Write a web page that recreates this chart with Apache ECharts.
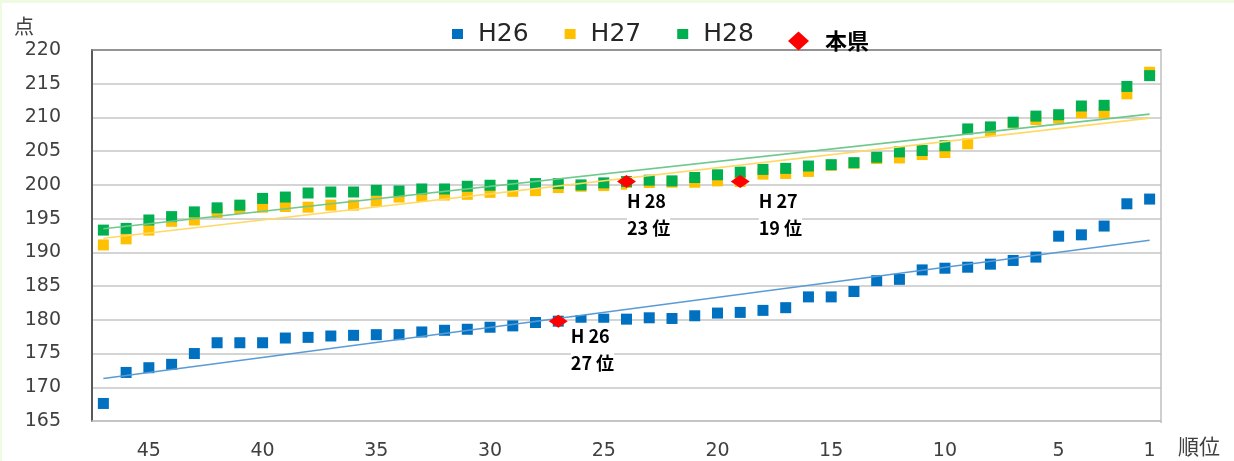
<!DOCTYPE html>
<html lang="ja">
<head>
<meta charset="utf-8">
<title>順位別 平均点</title>
<script src="https://cdn.jsdelivr.net/npm/echarts@6/dist/echarts.min.js"></script>
<style>
  html, body { margin: 0; padding: 0; background: #fff; }
  #chart { width: 1234px; height: 461px; }
  .edge-top { position: absolute; left: 0; top: 0; width: 1234px; height: 3px; background: #eefae2; }
  .edge-left { position: absolute; left: 0; top: 0; width: 2px; height: 461px; background: #eefae2; }
</style>
</head>
<body>
<div id="chart"></div>
<div class="edge-top"></div>
<div class="edge-left"></div>
<script>
const ranks = [47, 46, 45, 44, 43, 42, 41, 40, 39, 38, 37, 36, 35, 34, 33, 32,
  31, 30, 29, 28, 27, 26, 25, 24, 23, 22, 21, 20, 19, 18, 17,
  16, 15, 14, 13, 12, 11, 10, 9, 8, 7, 6, 5, 4, 3, 2, 1];

const h26 = [167.6, 172.2, 172.9, 173.4, 175.0, 176.6, 176.6, 176.6, 177.3, 177.4, 177.6, 177.7, 177.8, 177.8, 178.2, 178.45,
  178.6, 178.9, 179.1, 179.6, 179.8, 179.9, 180.1, 180.1, 180.3, 180.2, 180.6, 181.0, 181.1, 181.4, 181.8,
  183.4, 183.4, 184.2, 185.8, 186.0, 187.4, 187.65, 187.8, 188.25, 188.8, 189.3, 192.4, 192.6, 193.9, 197.2, 197.9];

const h27 = [191.1, 192.0, 193.3, 194.6, 194.8, 195.9, 196.5, 196.7, 196.8, 196.7, 197.0, 197.0, 197.6, 198.2, 198.3, 198.5,
  198.6, 198.9, 199.05, 199.15, 199.6, 199.8, 199.9, 200.1, 200.3, 200.4, 200.4, 200.6, 200.5, 201.6, 201.7,
  202.0, 202.9, 203.2, 203.9, 204.0, 204.5, 204.8, 206.1, 208.0, 209.2, 209.7, 209.9, 210.7, 210.7, 213.5, 216.7];

const h28 = [193.3, 193.55, 194.8, 195.3, 196.0, 196.6, 197.0, 198.0, 198.2, 198.8, 198.95, 198.95, 199.2, 199.1, 199.4, 199.4,
  199.8, 199.95, 199.95, 200.2, 200.2, 200.0, 200.3, 200.5, 200.7, 200.6, 201.1, 201.5, 201.9, 202.3, 202.45,
  202.8, 203.0, 203.3, 204.1, 204.9, 205.1, 205.8, 208.3, 208.6, 209.3, 210.2, 210.4, 211.7, 211.8, 214.6, 216.2];

// 近似直線（両端の値）
const trendRanks = [47, 1];
const trendH26 = [171.3, 191.8];
const trendH27 = [192.1, 209.9];
const trendH28 = [193.5, 210.5];

// 本県
const kenRanks = [27, 24, 19];
const kenScores = [179.8, 200.5, 200.5];
const kenLabels = ["H 26\n27 位", "H 28\n23 位", "H 27\n19 位"];

const xTicks = [45, 40, 35, 30, 25, 20, 15, 10, 5, 1];
const yTicks = [165, 170, 175, 180, 185, 190, 195, 200, 205, 210, 215, 220];

const labelOffsets = [[22, 8], [10, 13], [28, 13]];

const chart = echarts.init(document.getElementById("chart"));

function pairs(xs, ys) {
  return xs.map((x, i) => [x, ys[i]]);
}

function scatter(name, values, color) {
  return {
    name,
    type: "scatter",
    symbol: "rect",
    symbolSize: 11,
    itemStyle: { color, opacity: 1 },
    z: 2,
    data: pairs(ranks, values)
  };
}

function trend(values, color) {
  return {
    name: "trend",
    type: "line",
    showSymbol: false,
    silent: true,
    lineStyle: { color, width: 1.6 },
    z: 3,
    data: pairs(trendRanks, values)
  };
}

chart.setOption({
  animation: false,
  textStyle: { fontFamily: "DejaVu Sans" },
  grid: { left: 92, right: 73, top: 50, bottom: 38 },
  legend: [
    {
      data: ["H26", "H27", "H28"],
      left: 447,
      top: 15,
      icon: "rect",
      itemWidth: 11,
      itemHeight: 10,
      itemGap: 36,
      textStyle: { fontSize: 25, color: "#262626", padding: [0, 0, 0, 10], lineHeight: 28 }
    },
    {
      data: ["本県"],
      left: 783,
      top: 25,
      icon: "diamond",
      itemWidth: 21,
      itemHeight: 19,
      textStyle: {
        fontSize: 22,
        fontWeight: "bold",
        color: "#000",
        fontFamily: "Noto Sans CJK JP",
        padding: [0, 0, 0, 11],
        lineHeight: 22
      }
    }
  ],
  xAxis: [
    {
      type: "value",
      min: 0.5,
      max: 47.5,
      inverse: true,
      axisLine: { show: true, lineStyle: { color: "#bfbfbf", width: 1.5 } },
      axisTick: { show: false },
      splitLine: { show: false },
      axisLabel: { customValues: xTicks, fontSize: 19, color: "#404040", margin: 21 }
    },
    {
      type: "value",
      position: "top",
      min: 0.5,
      max: 47.5,
      inverse: true,
      axisLine: { show: true, lineStyle: { color: "#7f7f7f", width: 1.5 } },
      axisTick: { show: false },
      axisLabel: { show: false },
      splitLine: { show: false }
    }
  ],
  yAxis: {
    type: "value",
    min: 165,
    max: 220,
    interval: 5,
    name: "点",
    nameLocation: "end",
    nameGap: 14,
    nameTextStyle: { fontSize: 20, color: "#404040", fontFamily: "Noto Sans CJK JP", align: "right", padding: [0, 58, 0, 0] },
    axisLine: { show: true, lineStyle: { color: "#595959", width: 2 } },
    axisTick: { show: false },
    axisLabel: { customValues: yTicks, fontSize: 19, color: "#404040", margin: 31 },
    splitLine: { lineStyle: { color: "#c6c6c6", width: 1.5 } }
  },
  graphic: [
    {
      type: "line",
      shape: { x1: 1161, y1: 50, x2: 1161, y2: 423 },
      style: { stroke: "#bfbfbf", lineWidth: 1.5 },
      z: 1
    },
    {
      type: "text",
      left: 1178,
      top: 436,
      style: { text: "順位", fontSize: 21, fill: "#404040", fontFamily: "Noto Sans CJK JP" }
    }
  ],
  series: [
    scatter("H26", h26, "#0070c0"),
    scatter("H27", h27, "#ffc000"),
    scatter("H28", h28, "#00b050"),
    trend(trendH26, "#5b9bd5"),
    trend(trendH27, "#ffd966"),
    trend(trendH28, "#70c98c"),
    {
      name: "本県",
      type: "scatter",
      symbol: "diamond",
      symbolSize: [19, 13],
      itemStyle: { color: "#ff0000", opacity: 1 },
      z: 4,
      data: kenRanks.map((r, i) => ({
        value: [r, kenScores[i]],
        label: {
          show: true,
          position: labelOffsets[i],
          formatter: kenLabels[i],
          fontSize: 18,
          fontWeight: "bold",
          color: "#000",
          lineHeight: 27,
          fontFamily: "Noto Sans CJK JP",
          backgroundColor: "#fff"
        }
      }))
    }
  ]
});

window.addEventListener("resize", () => chart.resize());
</script>
</body>
</html>
